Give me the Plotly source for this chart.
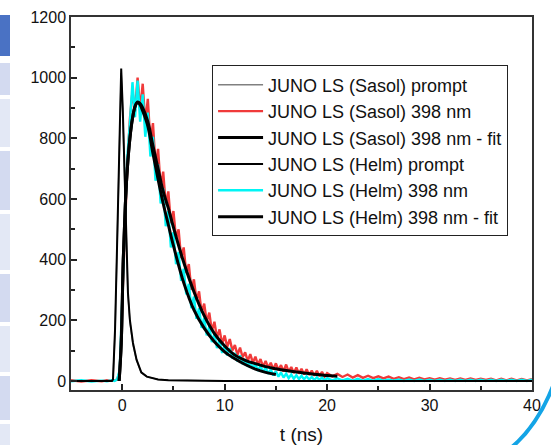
import plotly.graph_objects as go

# ---------------- data ----------------
t_data = [-5, -4, -3, -2, -1.5, -1, -0.75, -0.5, -0.25,
          0, 0.25, 0.5, 0.75, 1.0, 1.25, 1.5, 1.75, 2.0, 2.25, 2.5, 2.75,
          3.0, 3.25, 3.5, 3.75, 4.0, 4.25, 4.5, 4.75, 5.0, 5.25, 5.5, 5.75,
          6.0, 6.25, 6.5, 6.75, 7.0, 7.25, 7.5, 7.75, 8.0, 8.25, 8.5, 8.75,
          9.0, 9.25, 9.5, 9.75,
          10.0, 10.25, 10.5, 10.75, 11.0, 11.25, 11.5, 11.75,
          12.0, 12.25, 12.5, 12.75, 13.0, 13.25, 13.5, 13.75,
          14.0, 14.25, 14.5, 14.75, 15.0, 15.25, 15.5, 15.75,
          16.0, 16.25, 16.5, 16.75, 17.0, 17.25, 17.5, 17.75,
          18.0, 18.25, 18.5, 18.75, 19.0, 19.25, 19.5, 19.75,
          20.0, 20.5, 21.0, 21.5, 22.0, 22.5, 23.0, 23.5, 24.0, 24.5,
          25.0, 25.5, 26.0, 26.5, 27.0, 27.5, 28.0, 28.5, 29.0, 29.5,
          30.0, 30.5, 31.0, 31.5, 32.0, 32.5, 33.0, 33.5, 34.0, 34.5,
          35.0, 35.5, 36.0, 36.5, 37.0, 37.5, 38.0, 38.5, 39.0, 39.5, 40.0]

sasol_398 = [2, -2, 2, -1, 2, 0, 2, 4, 30,
             260, 520, 710, 865, 955, 890, 1000, 895, 980, 850, 930, 785,
             850, 710, 765, 640, 690, 580, 625, 520, 560, 470, 500, 405,
             440, 355, 385, 300, 335, 265, 295, 225, 255, 195, 225, 165,
             195, 142, 170, 122,
             150, 112, 138, 100, 118, 86, 110, 78,
             94, 66, 88, 60, 80, 54, 72, 47,
             66, 44, 60, 38, 58, 36, 52, 31,
             54, 30, 46, 26, 44, 24, 40, 21,
             38, 20, 34, 17, 33, 16, 30, 14,
             26, 15, 23, 13, 21, 11, 19, 10, 17, 9,
             15, 8, 14, 7, 12, 6, 11, 5, 10, 5,
             9, 4, 9, 4, 8, 3, 8, 3, 8, 3,
             7, 3, 7, 2, 7, 2, 7, 2, 6, 2, 6]

helm_398 = [-1, 2, -2, 1, -1, 2, 0, 5, 35,
            280, 540, 740, 850, 985, 870, 990, 855, 945, 805, 885, 740,
            805, 660, 715, 585, 635, 510, 560, 440, 490, 385, 425, 330,
            370, 285, 320, 240, 278, 205, 240, 175, 208, 150, 180, 128,
            156, 108, 136, 92,
            118, 84, 108, 74, 92, 64, 84, 55,
            72, 47, 64, 40, 56, 33, 50, 28,
            45, 23, 38, 18, 32, 14, 28, 11,
            24, 9, 21, 7, 19, 6, 17, 5,
            15, 4, 13, 3, 12, 3, 11, 2,
            9, 2, 8, 2, 7, 1, 7, 1, 6, 1,
            6, 1, 5, 1, 5, 0, 5, 0, 5, 0,
            4, 0, 4, 0, 4, 0, 4, 0, 4, 0,
            4, 0, 4, 0, 4, 0, 4, 0, 4, 0, 4]

t_prompt = [-5, -1.0, -0.9, -0.7, -0.5, -0.4, -0.25, -0.1, 0.05, 0.2, 0.4,
            0.56, 0.75, 1.05, 1.4, 1.86, 2.4, 3.0, 3.5, 4.5, 6, 10, 40]
sasol_prompt = [0, 0, 5, 160, 440, 610, 850, 1015, 890, 690, 450,
                285, 195, 120, 68, 27, 14, 8, 5, 2, 1, 0, 0]
helm_prompt = [0, 0, 5, 170, 450, 620, 870, 1030, 900, 700, 460,
               290, 200, 125, 70, 28, 14, 8, 5, 2, 1, 0, 0]

t_fit_sasol = [-0.3, -0.1, 0.1, 0.3, 0.5, 0.75, 1.0, 1.25, 1.5, 1.75, 2.0,
               2.5, 3.0, 3.5, 4.0, 4.5, 5, 6, 7, 8, 9, 10, 11, 12, 13, 14,
               15, 16, 17, 18, 19, 20, 21]
fit_sasol = [0, 120, 400, 580, 700, 800, 865, 905, 920, 915, 900,
             855, 775, 700, 625, 570, 506, 391, 294, 215, 156, 115, 85, 68,
             57, 47, 40, 34, 29, 25, 21, 18, 15]

t_fit_helm = [-0.3, -0.1, 0.1, 0.3, 0.5, 0.75, 1.0, 1.25, 1.5, 1.75, 2.0,
              2.5, 3.0, 3.5, 4.0, 4.5, 5, 6, 7, 8, 9, 10, 11, 12, 13, 14, 15]
fit_helm = [0, 120, 400, 580, 700, 800, 865, 905, 918, 910, 890,
            840, 750, 665, 585, 515, 446, 324, 234, 174, 129, 96, 73, 54,
            39, 28, 21]

x_ticks = [0, 10, 20, 30, 40]
y_ticks = [0, 200, 400, 600, 800, 1000, 1200]

FONT = "Liberation Sans, Arial, Helvetica, sans-serif"

fig = go.Figure()

# data (drawn first), then prompts, then fits on top
fig.add_trace(go.Scatter(x=t_data, y=sasol_398, mode="lines",
                         name="JUNO LS (Sasol) 398 nm", legendrank=2,
                         line=dict(color="#f03a3a", width=2.4)))
fig.add_trace(go.Scatter(x=t_data, y=helm_398, mode="lines",
                         name="JUNO LS (Helm) 398 nm", legendrank=5,
                         line=dict(color="#00f5f5", width=2.4)))
fig.add_trace(go.Scatter(x=t_prompt, y=sasol_prompt, mode="lines",
                         name="JUNO LS (Sasol) prompt", legendrank=1,
                         line=dict(color="#808080", width=1.5)))
fig.add_trace(go.Scatter(x=t_prompt, y=helm_prompt, mode="lines",
                         name="JUNO LS (Helm) prompt", legendrank=4,
                         line=dict(color="#000000", width=2)))
fig.add_trace(go.Scatter(x=t_fit_sasol, y=fit_sasol, mode="lines",
                         name="JUNO LS (Sasol) 398 nm - fit", legendrank=3,
                         line=dict(color="#000000", width=3, shape="spline")))
fig.add_trace(go.Scatter(x=t_fit_helm, y=fit_helm, mode="lines",
                         name="JUNO LS (Helm) 398 nm - fit", legendrank=6,
                         line=dict(color="#000000", width=3, shape="spline")))

axis_common = dict(
    showline=True, linecolor="#333333", linewidth=1.5, mirror=True,
    showgrid=False, zeroline=False, automargin=False,
    ticks="inside", ticklen=6, tickwidth=1.5, tickcolor="#222222",
    tickfont=dict(family=FONT, size=16, color="#111111"),
)

fig.update_xaxes(range=[-5, 40], tickvals=x_ticks,
                 minor=dict(ticks="inside", ticklen=4, dtick=5, tickwidth=1.5,
                            tickcolor="#222222"),
                 title=dict(text="t (ns)", font=dict(family=FONT, size=19, color="#111111")),
                 **axis_common)
fig.update_yaxes(range=[-30, 1200], tickvals=y_ticks,
                 minor=dict(ticks="inside", ticklen=4, dtick=100, tickwidth=1.5,
                            tickcolor="#222222"),
                 **axis_common)

# decorative screenshot remnants: left thumbnail strip and blue arc
shapes = []
strip = [(15, 56, "#4a72c4"), (63, 95, "#d3daf0"), (99, 147, "#e3e8f5"),
         (151, 210, "#d3daf0"), (214, 270, "#e3e8f5"), (274, 322, "#d3daf0"),
         (326, 372, "#e3e8f5"), (376, 420, "#d3daf0"), (424, 445, "#e3e8f5")]
for top, bot, col in strip:
    shapes.append(dict(type="rect", xref="paper", yref="paper",
                       x0=(0 - 71) / 461, x1=(10 - 71) / 461,
                       y0=(390 - bot) / 373, y1=(390 - top) / 373,
                       fillcolor=col, line=dict(width=0), layer="above"))

def px(x, y):
    return f"{(x - 71) / 461:.4f},{(390 - y) / 373:.4f}"

shapes.append(dict(type="path", xref="paper", yref="paper",
                   path=f"M{px(512, 447)} Q{px(540, 423)} {px(556, 378)}",
                   line=dict(color="#13a4e6", width=4)))

fig.update_layout(
    width=551, height=445,
    margin=dict(l=71, r=19, t=17, b=55, autoexpand=False),
    paper_bgcolor="white", plot_bgcolor="white",
    font=dict(family=FONT, color="#111111"),
    showlegend=True,
    legend=dict(x=0.306, y=0.87, xanchor="left", yanchor="top",
                bgcolor="white", bordercolor="#222222", borderwidth=1,
                font=dict(family=FONT, size=18, color="#111111"),
                itemwidth=45, tracegroupgap=0),
    shapes=shapes,
)

fig.write_html(
    "out.html",
    config={"displayModeBar": False},
    post_script="document.body.style.margin='0';document.body.style.padding='0';"
                "document.body.style.overflow='hidden';",
)
